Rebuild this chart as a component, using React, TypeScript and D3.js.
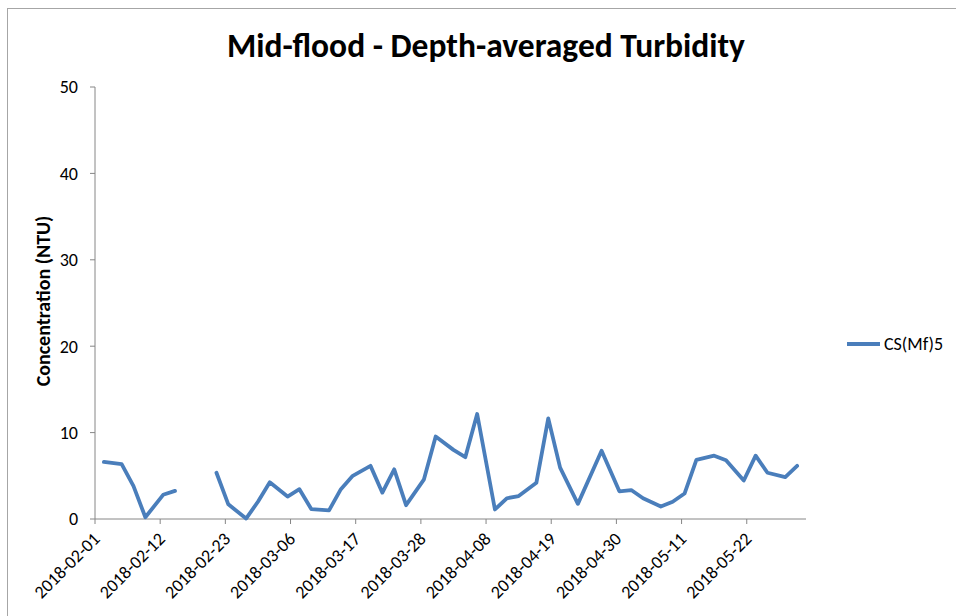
import React from "react";
import * as d3 from "d3";

const dates: string[] = [
  "2018-02-02", "2018-02-05", "2018-02-07", "2018-02-09", "2018-02-12", "2018-02-14",
  "2018-02-16", "2018-02-19",
  "2018-02-21", "2018-02-23", "2018-02-26", "2018-02-28", "2018-03-02", "2018-03-05",
  "2018-03-07", "2018-03-09", "2018-03-12", "2018-03-14", "2018-03-16", "2018-03-19",
  "2018-03-21", "2018-03-23", "2018-03-25", "2018-03-28", "2018-03-30", "2018-04-02",
  "2018-04-04", "2018-04-06", "2018-04-09", "2018-04-11", "2018-04-13", "2018-04-16",
  "2018-04-18", "2018-04-20", "2018-04-23", "2018-04-27", "2018-04-30", "2018-05-02",
  "2018-05-04", "2018-05-07", "2018-05-09", "2018-05-11", "2018-05-13", "2018-05-16",
  "2018-05-18", "2018-05-21", "2018-05-23", "2018-05-25", "2018-05-28", "2018-05-30",
];

const values: (number | null)[] = [
  6.6, 6.35, 3.8, 0.2, 2.8, 3.25,
  null, null,
  5.35, 1.7, 0.05, 2.0, 4.25, 2.6,
  3.45, 1.15, 1.0, 3.45, 5.0, 6.15,
  3.05, 5.75, 1.6, 4.55, 9.55, 8.0,
  7.15, 12.15, 1.1, 2.4, 2.65, 4.2,
  11.65, 5.95, 1.75, 7.9, 3.2, 3.35,
  2.4, 1.45, 2.0, 2.95, 6.85, 7.33,
  6.8, 4.45, 7.33, 5.35, 4.85, 6.15,
];

const xTickLabels: string[] = [
  "2018-02-01", "2018-02-12", "2018-02-23", "2018-03-06", "2018-03-17", "2018-03-28",
  "2018-04-08", "2018-04-19", "2018-04-30", "2018-05-11", "2018-05-22",
];
const yTicks: number[] = [0, 10, 20, 30, 40, 50];
const seriesName = "CS(Mf)5";
const title = "Mid-flood - Depth-averaged Turbidity";
const yLabel = "Concentration (NTU)";

const W = 956;
const H = 616;
const left = 95;
const right = 806;
const top = 87;
const bottom = 519;
const color = "#4a7ebb";
const axisColor = "#868686";
const font = "Carlito, Calibri, 'Open Sans', sans-serif";

export default function App() {
  const parse = d3.utcParse("%Y-%m-%d");
  const x = d3
    .scaleUtc()
    .domain([parse("2018-02-01")!, parse("2018-06-01")!])
    .range([left, right]);
  const y = d3.scaleLinear().domain([0, 50]).range([bottom, top]);
  const halfDay = (x(parse("2018-02-02")!) - x(parse("2018-02-01")!)) / 2;

  const data = dates.map((d, i) => ({ date: parse(d)!, v: values[i] }));
  const line = d3
    .line<{ date: Date; v: number | null }>()
    .defined((d) => d.v !== null)
    .x((d) => x(d.date) + halfDay)
    .y((d) => y(d.v as number));

  return (
    <svg
      width={W}
      height={H}
      style={{ position: "absolute", left: 0, top: 0, background: "#fff" }}
      fontFamily={font}
    >
      <rect x={7.5} y={8.5} width={1000} height={700} fill="#fff" stroke="#a6a6a6" strokeWidth={1} />
      <text x={486} y={57} textAnchor="middle" fontSize={33.5} fontWeight="bold" fill="#000">
        {title}
      </text>
      {/* y axis */}
      <line x1={left} x2={left} y1={top} y2={bottom} stroke={axisColor} />
      {yTicks.map((t) => (
        <g key={t}>
          <line x1={left - 5} x2={left} y1={y(t)} y2={y(t)} stroke={axisColor} />
          <text x={78} y={y(t)} dy="0.35em" textAnchor="end" fontSize={18} fill="#000">
            {t}
          </text>
        </g>
      ))}
      <text
        transform={`translate(50, 301) rotate(-90)`}
        textAnchor="middle"
        fontSize={20}
        fontWeight="bold"
        fill="#000"
      >
        {yLabel}
      </text>
      {/* x axis */}
      <line x1={left} x2={right} y1={bottom} y2={bottom} stroke={axisColor} />
      {xTickLabels.map((t) => {
        const tx = x(parse(t)!);
        return (
          <g key={t}>
            <line x1={tx} x2={tx} y1={bottom} y2={bottom + 5} stroke={axisColor} />
            <text
              transform={`translate(${tx + 6}, ${bottom + 21}) rotate(-45)`}
              textAnchor="end"
              fontSize={18}
              fill="#000"
            >
              {t}
            </text>
          </g>
        );
      })}
      <path
        d={line(data) || ""}
        fill="none"
        stroke={color}
        strokeWidth={3.8}
        strokeLinejoin="round"
        strokeLinecap="round"
      />
      {/* legend */}
      <line x1={847} x2={880} y1={344} y2={344} stroke={color} strokeWidth={3.8} />
      <text x={884} y={344} dy="0.35em" fontSize={18} fill="#000">
        {seriesName}
      </text>
    </svg>
  );
}
